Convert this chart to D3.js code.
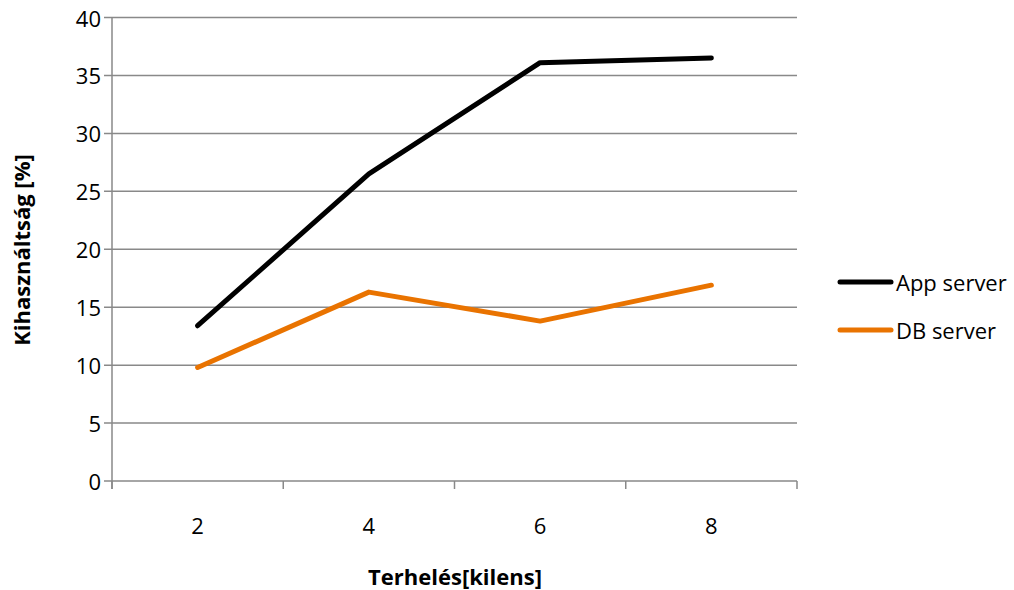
<!DOCTYPE html>
<html>
<head>
<meta charset="utf-8">
<script src="https://cdn.jsdelivr.net/npm/d3@7"></script>
<style>
  html, body { margin: 0; padding: 0; background: #fff; }
  svg text { font-family: "Open Sans", Lato, sans-serif; fill: #000; }
</style>
</head>
<body>
<svg id="chart" width="1014" height="590"></svg>
<script>
// Load levels (clients) and utilisation per server
const categories = ["2", "4", "6", "8"];
const appServer = [13.4, 26.5, 36.1, 36.5];
const dbServer = [9.8, 16.3, 13.8, 16.9];
const yTicks = [0, 5, 10, 15, 20, 25, 30, 35, 40];
const seriesNames = ["App server", "DB server"];
const seriesColors = ["#000000", "#E97300"];

const svg = d3.select("#chart");
const plot = { left: 112, right: 797, top: 17.5, bottom: 481 };
const fontSize = 22;

const x = d3.scaleBand().domain(categories).range([plot.left, plot.right]);
const y = d3.scaleLinear().domain([0, 40]).range([plot.bottom, plot.top]);

const gridColor = "#898989";

// horizontal gridlines
svg.append("g").selectAll("line").data(yTicks).join("line")
  .attr("x1", plot.left - 8).attr("x2", plot.right)
  .attr("y1", d => y(d)).attr("y2", d => y(d))
  .attr("stroke", gridColor).attr("stroke-width", 1.5);

// y axis line
svg.append("line")
  .attr("x1", plot.left).attr("x2", plot.left)
  .attr("y1", plot.top).attr("y2", plot.bottom + 8)
  .attr("stroke", gridColor).attr("stroke-width", 1.5);

// y tick labels
svg.append("g").selectAll("text").data(yTicks).join("text")
  .attr("x", plot.left - 11).attr("y", d => y(d))
  .attr("text-anchor", "end").attr("dominant-baseline", "central")
  .attr("font-size", fontSize).text(d => d);

// x tick marks at category boundaries
const bounds = categories.map(c => x(c)).concat([x(categories[categories.length - 1]) + x.bandwidth()]);
svg.append("g").selectAll("line").data(bounds).join("line")
  .attr("x1", d => d).attr("x2", d => d)
  .attr("y1", plot.bottom).attr("y2", plot.bottom + 8)
  .attr("stroke", gridColor).attr("stroke-width", 1.5);

// x tick labels
svg.append("g").selectAll("text").data(categories).join("text")
  .attr("x", d => x(d) + x.bandwidth() / 2).attr("y", 534)
  .attr("text-anchor", "middle").attr("font-size", fontSize).text(d => d);

// axis titles
svg.append("text")
  .attr("x", 455).attr("y", 585)
  .attr("text-anchor", "middle").attr("font-size", fontSize).attr("font-weight", "bold")
  .text("Terhelés[kilens]");

svg.append("text")
  .attr("transform", "translate(30,250) rotate(-90)")
  .attr("text-anchor", "middle").attr("font-size", fontSize).attr("font-weight", "bold")
  .text("Kihasználtság [%]");

// series lines
const line = d3.line()
  .x((d, i) => x(categories[i]) + x.bandwidth() / 2)
  .y(d => y(d));

[appServer, dbServer].forEach((vals, k) => {
  svg.append("path")
    .datum(vals)
    .attr("d", line)
    .attr("fill", "none")
    .attr("stroke", seriesColors[k])
    .attr("stroke-width", 5)
    .attr("stroke-linecap", "round")
    .attr("stroke-linejoin", "round");
});

// legend
const legend = svg.append("g");
seriesNames.forEach((name, k) => {
  const ly = 282 + k * 48;
  legend.append("line")
    .attr("x1", 840).attr("x2", 891)
    .attr("y1", ly).attr("y2", ly)
    .attr("stroke", seriesColors[k]).attr("stroke-width", 5)
    .attr("stroke-linecap", "round");
  legend.append("text")
    .attr("x", 896).attr("y", ly)
    .attr("dominant-baseline", "central")
    .attr("font-size", fontSize).text(name);
});
</script>
</body>
</html>
